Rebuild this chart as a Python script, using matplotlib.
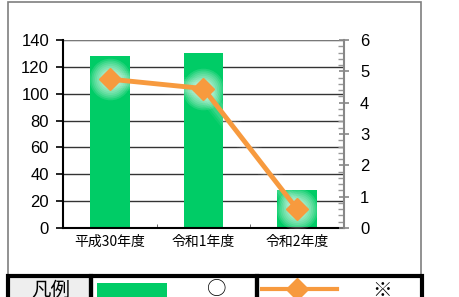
import matplotlib.pyplot as plt
from matplotlib.patches import Rectangle
from matplotlib.lines import Line2D
import numpy as np

plt.rcParams['font.family'] = ['Noto Sans CJK JP', 'DejaVu Sans']

# データ
categories = ['平成30年度', '令和1年度', '令和2年度']
bar_values = [128, 130, 28]
line_values = [4.75, 4.45, 0.6]
left_ticks = [0, 20, 40, 60, 80, 100, 120, 140]
right_ticks = [0, 1, 2, 3, 4, 5, 6]

green = '#00CC66'
orange = '#F79A3E'

fig = plt.figure(figsize=(4.6, 2.97), dpi=100)
W, H = 460, 297

def fx(px):
    return px / W

def fy(py):
    return 1 - py / H

# 外枠
fig.patches.append(Rectangle((fx(8), fy(275)), fx(413), 273 / H, transform=fig.transFigure,
                             fill=False, edgecolor='#7f7f7f', lw=1.2))

ax = fig.add_axes([fx(63), fy(228), fx(281), 188 / H])
x = np.arange(len(categories))
ax.bar(x, bar_values, width=0.42, color=green, zorder=2)
ax.set_xlim(-0.5, 2.5)
ax.set_ylim(0, 140)
ax.set_yticks(left_ticks)
ax.set_yticklabels([str(v) for v in left_ticks], fontsize=12, family='Liberation Sans')
ax.yaxis.grid(True, color='#333333', lw=1)
ax.set_axisbelow(True)
ax.set_xticks(x)
ax.set_xticklabels(categories, fontsize=10)
ax.tick_params(axis='x', length=0, pad=5)
ax.set_xticks([0.5, 1.5], minor=True)
ax.tick_params(axis='x', which='minor', direction='in', length=3, color='#555555')
ax.tick_params(axis='y', length=5, width=1.2, direction='out', pad=5)
ax.spines['top'].set_visible(False)
ax.spines['right'].set_visible(False)
ax.spines['left'].set_linewidth(1.5)
ax.spines['bottom'].set_linewidth(1.5)

ax2 = ax.twinx()
ax2.set_ylim(0, 6)
ax2.set_yticks(right_ticks)
ax2.set_yticklabels([str(v) for v in right_ticks], fontsize=12, family='Liberation Sans')
ax2.set_yticks(np.arange(0, 6.01, 0.2), minor=True)
ax2.tick_params(axis='y', which='major', direction='inout', length=7, width=1.2, color='#888888', pad=8)
ax2.tick_params(axis='y', which='minor', direction='in', length=4, width=1, color='#999999')
for s in ['top', 'left', 'bottom']:
    ax2.spines[s].set_visible(False)
ax2.spines['right'].set_color('#888888')
ax2.spines['right'].set_linewidth(1.5)
# 上端の線
ax.axhline(140, color='#888888', lw=1.2, zorder=1)

# グロー効果
for lw, a in [(14, 0.06), (11, 0.08), (8, 0.1)]:
    ax2.plot(x, line_values, color='white', lw=lw, alpha=a, solid_capstyle='round', zorder=3)
for size in np.linspace(30, 12, 8):
    ax2.plot(x, line_values, 'o', ms=size, color='white', alpha=0.12, mec='none', zorder=3)
ax2.plot(x, line_values, color=orange, lw=3.5, marker='D', ms=11, mec=orange, zorder=4)

# 凡例テーブル
lw_t = 3
cells = [(8, 91), (91, 257), (257, 422)]
fig.patches.append(Rectangle((fx(8), fy(300)), fx(83), 25 / H, transform=fig.transFigure,
                             facecolor='#eeeeee', edgecolor='none'))
for x0, x1 in cells:
    fig.patches.append(Rectangle((fx(x0), fy(300)), fx(x1 - x0), 24 / H, transform=fig.transFigure,
                                 fill=False, edgecolor='black', lw=lw_t, clip_on=False))
fig.text(fx(51), fy(290), '凡例', ha='center', va='center', fontsize=14)
fig.patches.append(Rectangle((fx(97), fy(300)), fx(70), 17 / H, transform=fig.transFigure,
                             facecolor=green, edgecolor='none'))
fig.text(fx(217), fy(290), '○', ha='center', va='center', fontsize=14)
fig.lines.append(Line2D([fx(262), fx(337)], [fy(289), fy(289)], transform=fig.transFigure,
                        color=orange, lw=3, marker=None))
fig.lines.append(Line2D([fx(297)], [fy(289)], transform=fig.transFigure,
                        color=orange, marker='D', ms=11))
fig.text(fx(382), fy(290), '※', ha='center', va='center', fontsize=14)

fig.savefig('out.png', dpi=100)
